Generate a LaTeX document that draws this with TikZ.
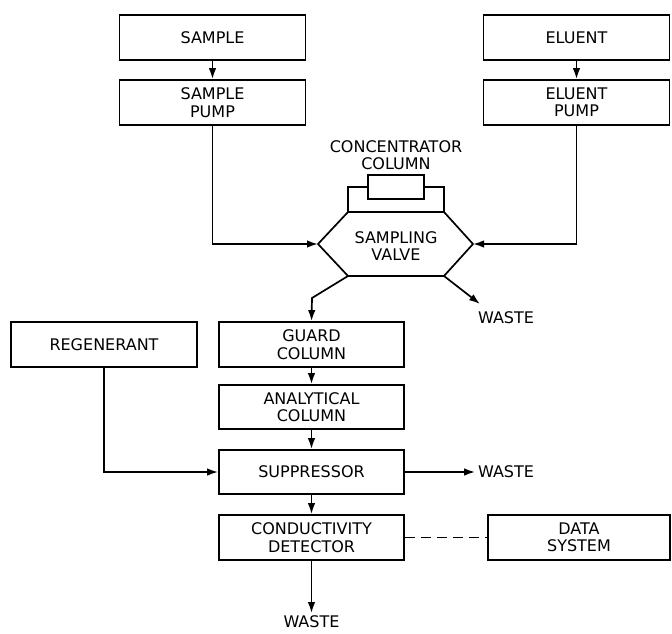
\documentclass[tikz,border=0pt]{standalone}
\usepackage{fontspec}
\setmainfont{DejaVu Sans}
\usepackage{tikz}
\usetikzlibrary{arrows.meta}

\begin{document}
\begin{tikzpicture}[x=1pt, y=-1pt, line width=1.7pt,
    box/.style={rectangle, draw, minimum width=186pt, minimum height=45pt, align=center, inner sep=1pt},
    lbl/.style={align=center, inner sep=2pt},
    arr/.style={-{Latex[length=11pt,width=7.5pt]}},
    font=\fontsize{16}{17.5}\selectfont]
      \useasboundingbox (0,0) rectangle (672,633);

      \node[box] (sample) at (212.5,37.5) {SAMPLE};
      \node[box] (samplepump) at (212.5,102.5) {SAMPLE\\PUMP};
      \node[box] (eluent) at (576.5,37.5) {ELUENT};
      \node[box] (eluentpump) at (576.5,102.5) {ELUENT\\PUMP};

      \node[lbl] (conclbl) at (396,155) {CONCENTRATOR\\COLUMN};
      \node[rectangle, draw, minimum width=56pt, minimum height=24pt, inner sep=0pt] (conc) at (396,187) {};

      \coordinate (vtl) at (348,212);
      \coordinate (vtr) at (444,212);
      \coordinate (vr) at (473,244);
      \coordinate (vbr) at (444,276);
      \coordinate (vbl) at (348,276);
      \coordinate (vl) at (318,244);
      \draw (vtl) -- (vtr) -- (vr) -- (vbr) -- (vbl) -- (vl) -- cycle;
      \node[lbl] (valve) at (396,246) {SAMPLING\\VALVE};
      \draw (vtl) |- (conc.west);
      \draw (vtr) |- (conc.east);

      \node[lbl] (waste1) at (506,318) {WASTE};
      \coordinate (w1tip) at (480,304);
      \coordinate (bend) at (312,298);

      \node[box] (regen) at (104,344.5) {REGENERANT};
      \node[box, minimum width=185pt] (guard) at (311.5,344.5) {GUARD\\COLUMN};
      \node[box, minimum width=185pt, minimum height=44pt] (analytical) at (311.5,407) {ANALYTICAL\\COLUMN};
      \node[box, minimum width=185pt, minimum height=44pt] (suppressor) at (311.5,472) {SUPPRESSOR};
      \node[box, minimum width=185pt] (detector) at (311.5,537.5) {CONDUCTIVITY\\DETECTOR};
      \node[box, minimum width=182pt] (datasys) at (579,537.5) {DATA\\SYSTEM};

      \node[lbl] (waste2) at (506,472) {WASTE};
      \node[lbl] (waste3) at (311.5,622) {WASTE};

      \draw[arr] (sample) -- (samplepump);
      \draw[arr] (eluent) -- (eluentpump);
      \draw[arr] (samplepump.south) |- (vl);
      \draw[arr] (eluentpump.south) |- (vr);
      \draw[arr] (vbl) -- (bend) -- (guard.north);
      \draw[arr] (vbr) -- (w1tip);
      \draw[arr] (guard) -- (analytical);
      \draw[arr] (analytical) -- (suppressor);
      \draw[arr] (suppressor) -- (detector);
      \draw[arr] (regen.south) |- (suppressor.west);
      \draw[arr] (suppressor.east) -- (waste2.west);
      \draw[arr] (detector.south) -- (waste3.north);
      \draw[dash pattern=on 10pt off 6pt] (detector.east) -- (datasys.west);
    \end{tikzpicture}
\end{document}
